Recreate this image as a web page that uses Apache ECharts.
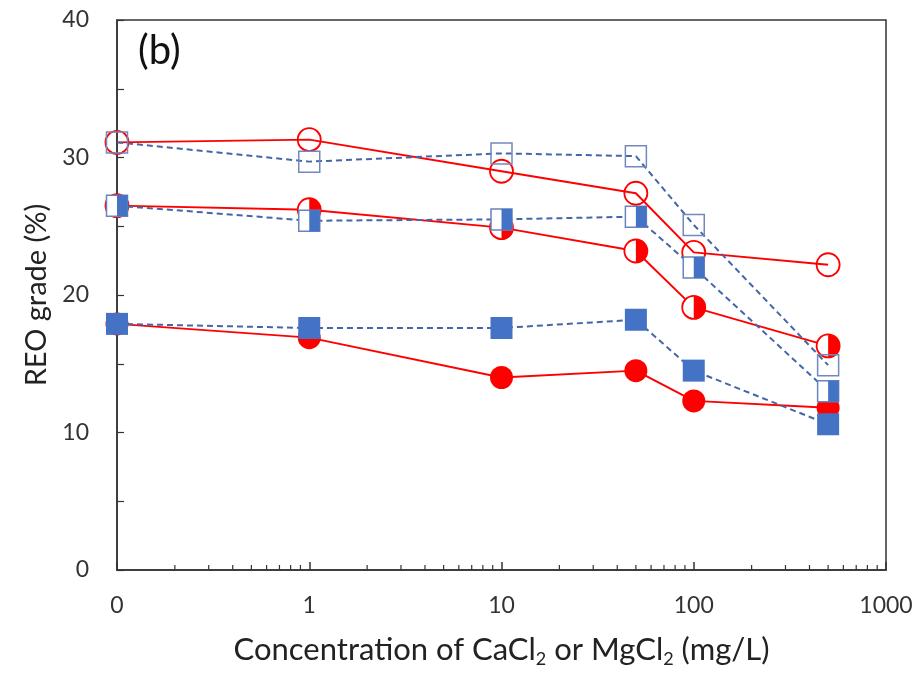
<!DOCTYPE html>
<html>
<head>
<meta charset="utf-8">
<script src="https://cdn.jsdelivr.net/npm/echarts@6/dist/echarts.min.js"></script>
<style>
  html, body { margin: 0; padding: 0; background: #fff; }
  #chart { width: 923px; height: 673px; }
</style>
</head>
<body>
<div id="chart"></div>
<script>
// concentration (mg/L); 0.1 stands in for "0" on the log axis
var concentration = [0.1, 1, 10, 50, 100, 500];

// REO grade (%)
var redOpen    = [31.1, 31.3, 29.0, 27.4, 23.1, 22.2];
var redHalf    = [26.5, 26.2, 24.9, 23.2, 19.1, 16.3];
var redFilled  = [17.9, 16.9, 14.0, 14.5, 12.3, 11.8];
var blueOpen   = [31.1, 29.7, 30.3, 30.1, 25.1, 14.9];
var blueHalf   = [26.5, 25.4, 25.5, 25.7, 22.0, 13.0];
var blueFilled = [17.9, 17.6, 17.6, 18.2, 14.5, 10.6];

// minor ticks on the log axis
var minorTicks = [0.2, 0.3, 0.4, 0.5, 0.6, 0.7, 0.8, 0.9,
                  2, 3, 4, 5, 6, 7, 8, 9,
                  20, 30, 40, 50, 60, 70, 80, 90,
                  200, 300, 400, 500, 600, 700, 800, 900];

var RED = '#ff0000';
var BLUE = '#4472c4';
var DASH = '#4566a6';
var FONT = 'Lato';

function pairs(ys) {
    var out = [];
    for (var i = 0; i < concentration.length; i++) {
        out.push([concentration[i], ys[i]]);
    }
    return out;
}

var halfDisc = 'path://M0,-10 A10,10 0 0 1 0,10 Z';

var chart = echarts.init(document.getElementById('chart'));

var option = {
    animation: false,
    title: {
        text: '(b)',
        left: 133,
        top: 26,
        textStyle: { fontFamily: FONT, fontSize: 40, fontWeight: 'normal', color: '#111' }
    },
    grid: {
        left: 117, right: 37, top: 20, bottom: 102,
        show: true, borderColor: '#333', borderWidth: 1.5
    },
    xAxis: {
        type: 'log',
        logBase: 10,
        min: 0.1,
        max: 1000,
        splitNumber: 4,
        name: 'Concentration of CaCl{s|2} or MgCl{s|2} (mg/L)',
        nameLocation: 'middle',
        nameGap: 62,
        nameTextStyle: {
            fontFamily: FONT, fontSize: 31, color: '#222', lineHeight: 36,
            rich: { s: { fontFamily: FONT, fontSize: 18, verticalAlign: 'bottom', lineHeight: 18, color: '#222' } }
        },
        axisLine: { lineStyle: { color: '#333', width: 1.5 } },
        axisTick: { inside: true, length: 8, lineStyle: { color: '#333', width: 1.5 } },
        axisLabel: {
            margin: 24,
            fontFamily: FONT, fontSize: 23, color: '#333',
            formatter: function (v) { return v < 0.5 ? '0' : String(Math.round(v)); }
        },
        splitLine: { show: false }
    },
    yAxis: {
        type: 'value',
        min: 0,
        max: 40,
        interval: 5,
        name: 'REO grade (%)',
        nameLocation: 'middle',
        nameGap: 64,
        nameTextStyle: { fontFamily: FONT, fontSize: 29, color: '#222' },
        axisLine: { show: true, lineStyle: { color: '#333', width: 1.5 } },
        axisTick: { inside: true, length: 7, lineStyle: { color: '#333', width: 1.2 } },
        axisLabel: {
            margin: 28,
            fontFamily: FONT, fontSize: 23, color: '#333',
            formatter: function (v) { return v % 10 === 0 ? String(v) : ''; }
        },
        splitLine: { show: false }
    },
    series: [
        {
            type: 'custom',
            data: minorTicks.map(function (v) { return [v]; }),
            clip: false,
            silent: true,
            z: 1,
            renderItem: function (params, api) {
                var p = api.coord([api.value(0), 0]);
                return {
                    type: 'line',
                    shape: { x1: p[0], y1: p[1], x2: p[0], y2: p[1] - 5 },
                    style: { stroke: '#333', lineWidth: 1.2 }
                };
            }
        },
        {
            type: 'line', data: pairs(redOpen), z: 2,
            symbol: 'circle', symbolSize: 23,
            lineStyle: { color: RED, width: 2 },
            itemStyle: { color: 'rgba(0,0,0,0)', borderColor: RED, borderWidth: 1.8 }
        },
        {
            type: 'line', data: pairs(redHalf), z: 2,
            symbol: 'circle', symbolSize: 23,
            lineStyle: { color: RED, width: 2 },
            itemStyle: { color: '#fff', borderColor: RED, borderWidth: 1.8 }
        },
        {
            type: 'scatter', data: pairs(redHalf), z: 3,
            symbol: halfDisc, symbolSize: [11.5, 23], symbolOffset: [5.75, 0],
            itemStyle: { color: RED, opacity: 1 }
        },
        {
            type: 'line', data: pairs(redFilled), z: 2,
            symbol: 'circle', symbolSize: 23,
            lineStyle: { color: RED, width: 2 },
            itemStyle: { color: RED, borderColor: RED, borderWidth: 0 }
        },
        {
            type: 'line', data: pairs(blueOpen), z: 4,
            symbol: 'rect', symbolSize: 21,
            lineStyle: { color: DASH, width: 2, type: [6, 4] },
            itemStyle: { color: 'rgba(0,0,0,0)', borderColor: '#7388bd', borderWidth: 1.5 }
        },
        {
            type: 'line', data: pairs(blueHalf), z: 4,
            symbol: 'rect', symbolSize: 21,
            lineStyle: { color: DASH, width: 2, type: [6, 4] },
            itemStyle: { color: '#fff', borderColor: '#6a82bd', borderWidth: 1.5 }
        },
        {
            type: 'scatter', data: pairs(blueHalf), z: 5,
            symbol: 'rect', symbolSize: [10.5, 21], symbolOffset: [5.25, 0],
            itemStyle: { color: BLUE, opacity: 1 }
        },
        {
            type: 'line', data: pairs(blueFilled), z: 4,
            symbol: 'rect', symbolSize: 22,
            lineStyle: { color: DASH, width: 2, type: [6, 4] },
            itemStyle: { color: BLUE, borderWidth: 0 }
        }
    ]
};

chart.setOption(option, true);
</script>
</body>
</html>
